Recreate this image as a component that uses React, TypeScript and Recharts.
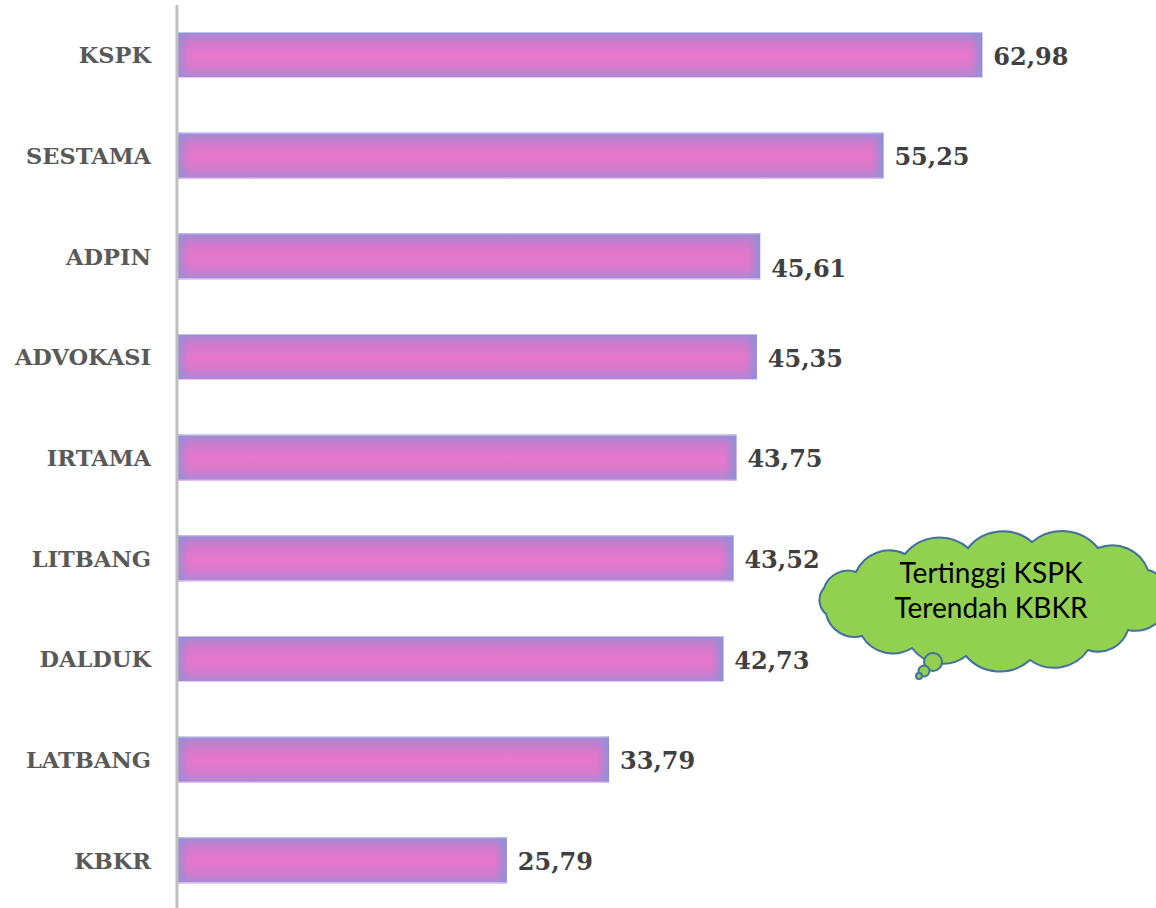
import React from 'react';
import { BarChart, Bar, XAxis, YAxis, LabelList } from 'recharts';

const categories = ['KSPK', 'SESTAMA', 'ADPIN', 'ADVOKASI', 'IRTAMA', 'LITBANG', 'DALDUK', 'LATBANG', 'KBKR'];
const values = [62.98, 55.25, 45.61, 45.35, 43.75, 43.52, 42.73, 33.79, 25.79];
const valueLabels = ['62,98', '55,25', '45,61', '45,35', '43,75', '43,52', '42,73', '33,79', '25,79'];
const noteLines = ['Tertinggi KSPK', 'Terendah KBKR'];

const data = categories.map((c, i) => ({ name: c, value: values[i], label: valueLabels[i] }));

const GradBar = (props: any) => {
  const { x, y, width, height, index } = props;
  if (!width || width <= 0) return null;
  const id = `hg-${index}`;
  const e = 12 / width;
  return (
    <g>
      <defs>
        <linearGradient id={id} gradientUnits="userSpaceOnUse" x1={x} y1={0} x2={x + width} y2={0}>
          <stop offset={0} stopColor="#8f8fd8" stopOpacity={0.85} />
          <stop offset={e} stopColor="#8f8fd8" stopOpacity={0} />
          <stop offset={1 - e} stopColor="#8f8fd8" stopOpacity={0} />
          <stop offset={1} stopColor="#8a92d8" stopOpacity={0.95} />
        </linearGradient>
      </defs>
      <rect x={x} y={y} width={width} height={height} fill="url(#vGrad)" />
      <rect x={x} y={y} width={width} height={height} fill={`url(#${id})`} />
      <line x1={x} x2={x + width} y1={y + 0.5} y2={y + 0.5} stroke="#b8c4ee" strokeWidth={1} />
      <line x1={x} x2={x + width} y1={y + height - 0.5} y2={y + height - 0.5} stroke="#f3c6ee" strokeWidth={1} />
    </g>
  );
};

const ValueLabel = (props: any) => {
  const { x, y, width, height, value, index } = props;
  const extra = categories[index] === 'ADPIN' ? 14 : 3;
  return (
    <text
      x={x + width + 11}
      y={y + height / 2 + extra}
      dominantBaseline="middle"
      fill="#404040"
      fontFamily="'DejaVu Serif', serif"
      fontWeight="bold"
      fontSize={24}
    >
      {value}
    </text>
  );
};

const CategoryTick = (props: any) => {
  const { x, y, payload } = props;
  return (
    <text
      x={x}
      y={y}
      dy={2}
      textAnchor="end"
      dominantBaseline="middle"
      fill="#595959"
      fontFamily="'DejaVu Serif', serif"
      fontWeight="bold"
      fontSize={22.5}
    >
      {payload.value}
    </text>
  );
};

const cloudPoints: [number, number][] = [
  [826, 614], [824, 588], [856, 572], [905, 554], [968, 548], [1032, 542],
  [1098, 548], [1148, 570], [1168, 604], [1128, 630], [1088, 650], [1030, 660],
  [966, 656], [912, 648], [862, 636],
];

function cloudPath(pts: [number, number][]) {
  let d = `M ${pts[0][0]} ${pts[0][1]}`;
  for (let i = 1; i <= pts.length; i++) {
    const p = pts[i % pts.length];
    const q = pts[i - 1];
    const chord = Math.hypot(p[0] - q[0], p[1] - q[1]);
    const r = chord * 0.7;
    d += ` A ${r} ${r} 0 0 1 ${p[0]} ${p[1]}`;
  }
  return d + ' Z';
}

const Cloud = () => (
  <svg width={1156} height={908} style={{ position: 'absolute', left: 0, top: 0, pointerEvents: 'none' }}>
    <path d={cloudPath(cloudPoints)} fill="#92d050" stroke="#41719c" strokeWidth={2} />
    <circle cx={933} cy={662} r={9} fill="#92d050" stroke="#41719c" strokeWidth={2} />
    <circle cx={924} cy={671} r={5.5} fill="#92d050" stroke="#41719c" strokeWidth={2} />
    <circle cx={919} cy={676} r={3} fill="#92d050" stroke="#41719c" strokeWidth={2} />
    <text x={991} y={583} textAnchor="middle" fontFamily="Lato, 'Open Sans', sans-serif" fontSize={28} fill="#000">
      {noteLines[0]}
    </text>
    <text x={991} y={618} textAnchor="middle" fontFamily="Lato, 'Open Sans', sans-serif" fontSize={28} fill="#000">
      {noteLines[1]}
    </text>
  </svg>
);

export default function App() {
  return (
    <div style={{ position: 'absolute', left: 0, top: 0, width: 1156, height: 908, overflow: 'hidden', background: '#fff' }}>
      <BarChart
        layout="vertical"
        width={1156}
        height={911}
        data={data}
        margin={{ top: 5, right: 84, bottom: 0, left: 0 }}
      >
        <defs>
          <linearGradient id="vGrad" x1="0" y1="0" x2="0" y2="1">
            <stop offset="0" stopColor="#a08cd6" />
            <stop offset="0.25" stopColor="#d27acb" />
            <stop offset="0.5" stopColor="#e677cb" />
            <stop offset="0.75" stopColor="#d87acb" />
            <stop offset="1" stopColor="#a88ad6" />
          </linearGradient>
        </defs>
        <XAxis type="number" hide domain={[0, 70]} />
        <YAxis
          type="category"
          dataKey="name"
          width={177}
          axisLine={{ stroke: '#bfbfbf', strokeWidth: 3 }}
          tickLine={false}
          tickSize={0}
          tickMargin={26}
          tick={<CategoryTick />}
          interval={0}
        />
        <Bar dataKey="value" barSize={46} shape={<GradBar />} isAnimationActive={false}>
          <LabelList dataKey="label" content={<ValueLabel />} />
        </Bar>
      </BarChart>
      <Cloud />
    </div>
  );
}
